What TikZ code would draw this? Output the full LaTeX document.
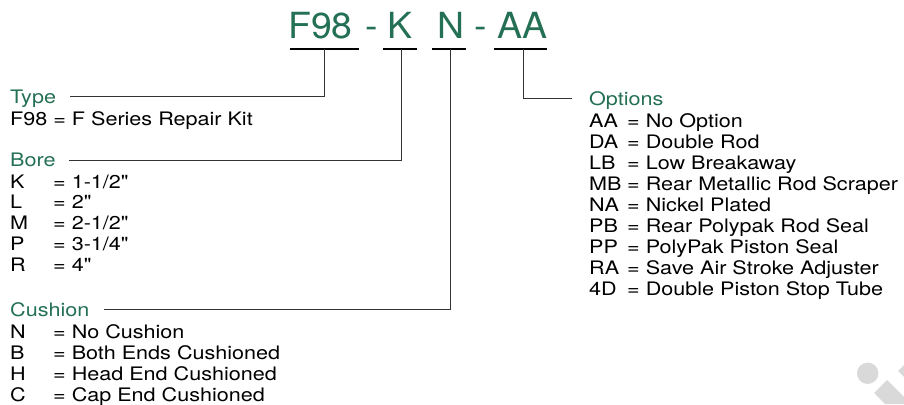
\documentclass[tikz,border=0pt]{standalone}
\usepackage{fontspec}
\setmainfont{TeX Gyre Heros}[FakeStretch=1.16, Ligatures=TeXOff]
\newfontfamily\codefont{TeX Gyre Heros}[FakeStretch=1.04]
\usetikzlibrary{positioning}
\definecolor{kitgreen}{RGB}{36,112,84}
\definecolor{markgray}{RGB}{217,217,217}
\tikzset{
  code/.style={font=\codefont\fontsize{36}{36}\selectfont, text=kitgreen, anchor=base west, inner sep=0pt},
  head/.style={font=\fontsize{18.6}{21}\selectfont, text=kitgreen, anchor=base west, inner sep=0pt, text height=13.3pt, text depth=0pt},
  list/.style={font=\fontsize{18.6}{21}\selectfont, anchor=base west, inner sep=0pt},
  uline/.style={line width=2pt},
  lead/.style={line width=0.9pt, black!80}
}

\begin{document}
\begin{tikzpicture}[x=1pt, y=-1pt]
      \useasboundingbox (0,0) rectangle (904,404);
      % model code
      \node[code] (cType) at (288,38) {F98};
      \node[code] (dash1) at (365,38) {-};
      \node[code] (cBore) at (387,38) {K};
      \node[code] (cCush) at (437,38) {N};
      \node[code] (dash2) at (474,38) {-};
      \node[code] (cOpt)  at (497,38) {AA};
      \coordinate (uType) at (324,49);
      \coordinate (uBore) at (401,49);
      \coordinate (uCush) at (450,49);
      \coordinate (uOpt)  at (523,49);
      \draw[uline] ([xshift=-34pt]uType) -- ([xshift=35pt]uType);
      \draw[uline] ([xshift=-18pt]uBore) -- ([xshift=16pt]uBore);
      \draw[uline] ([xshift=-18pt]uCush) -- ([xshift=16pt]uCush);
      \draw[uline] ([xshift=-29pt]uOpt)  -- ([xshift=24pt]uOpt);
      % headings
      \node[head] (hType) at (10,103.3)  {Type};
      \node[head] (hBore) at (10,166.7)  {Bore};
      \node[head] (hCush) at (10,316.5)  {Cushion};
      \node[head] (hOpt)  at (589,105)   {Options};
      % leaders
      \draw[lead] (uType) |- ([xshift=14pt]hType.east);
      \draw[lead] (uBore) |- ([xshift=13pt]hBore.east);
      \draw[lead] (uCush) |- ([xshift=14pt]hCush.east);
      \draw[lead] (uOpt)  |- ([xshift=-17pt]hOpt.west);
      % lists
      \node[list] (lType) at (10,125) {F98 = F Series Repair Kit};
      \node[list, font=\fontsize{18.6}{20.8}\selectfont] (lBore) at (10,188) {\begin{tabular}[t]{@{}p{43pt}@{}l@{}}
        K & = 1-1/2"\\ L & = 2"\\ M & = 2-1/2"\\ P & = 3-1/4"\\ R & = 4"\end{tabular}};
      \node[list] (lCush) at (10,338) {\begin{tabular}[t]{@{}p{43pt}@{}l@{}}
        N & = No Cushion\\ B & = Both Ends Cushioned\\ H & = Head End Cushioned\\ C & = Cap End Cushioned\end{tabular}};
      \node[list] (lOpt) at (589,127) {\begin{tabular}[t]{@{}p{38pt}@{}l@{}}
        AA & = No Option\\ DA & = Double Rod\\ LB & = Low Breakaway\\ MB & = Rear Metallic Rod Scraper\\
        NA & = Nickel Plated\\ PB & = Rear Polypak Rod Seal\\ PP & = PolyPak Piston Seal\\
        RA & = Save Air Stroke Adjuster\\ 4D & = Double Piston Stop Tube\end{tabular}};
      % corner mark
      \fill[markgray] (867.7,373.3) circle (10.7);
      \fill[markgray] (874,393) -- (887,380) -- (904,397) -- (904,404) -- (885,404) -- cycle;
      \fill[markgray] (898,371) -- (904,365) -- (904,377) -- cycle;
\end{tikzpicture}
\end{document}
